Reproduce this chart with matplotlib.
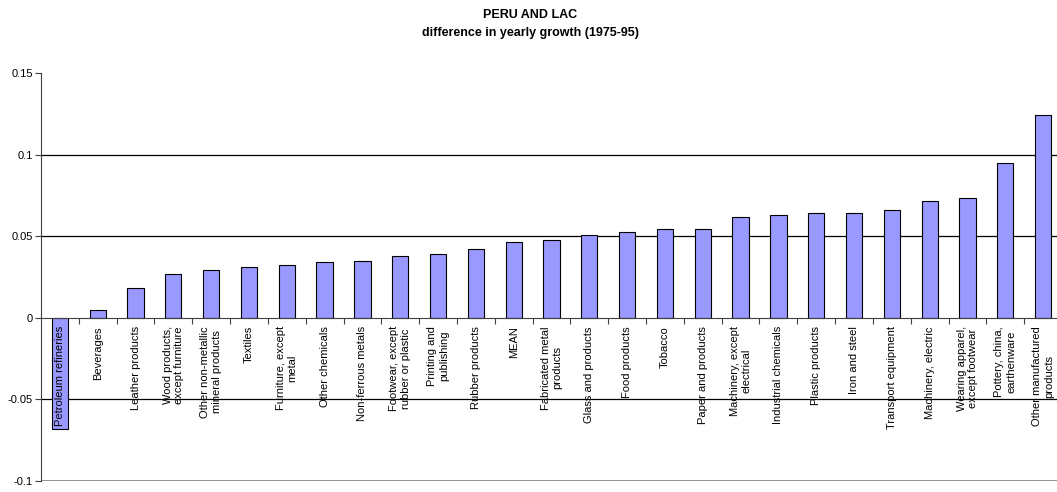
import numpy as np
import matplotlib
matplotlib.use("Agg")
import matplotlib.pyplot as plt

plt.rcParams['font.family'] = ['Liberation Sans', 'DejaVu Sans']

# Data
categories = [
    "Petroleum refineries", "Beverages", "Leather products",
    "Wood products,\nexcept furniture", "Other non-metallic\nmineral products",
    "Textiles", "Furniture, except\nmetal", "Other chemicals",
    "Non-ferrous metals", "Footwear, except\nrubber or plastic",
    "Printing and\npublishing", "Rubber products", "MEAN",
    "Fabricated metal\nproducts", "Glass and products", "Food products",
    "Tobacco", "Paper and products", "Machinery, except\nelectrical",
    "Industrial chemicals", "Plastic products", "Iron and steel",
    "Transport equipment", "Machinery, electric",
    "Wearing apparel,\nexcept footwear", "Pottery, china,\nearthenware",
    "Other manufactured\nproducts",
]
growth_diff = [
    -0.068, 0.005, 0.018, 0.027, 0.029, 0.031, 0.0325, 0.0343, 0.035,
    0.038, 0.039, 0.0423, 0.0463, 0.0475, 0.051, 0.0524, 0.0542, 0.0542,
    0.062, 0.063, 0.064, 0.0645, 0.066, 0.0718, 0.0732, 0.0951, 0.1245,
]
y_ticks = [-0.1, -0.05, 0, 0.05, 0.1, 0.15]
y_tick_labels = ["-0.1", "-0.05", "0", "0.05", "0.1", "0.15"]

W, H = 1057, 492
fig = plt.figure(figsize=(W / 100, H / 100), dpi=100)
ax = fig.add_axes([41 / W, (H - 481) / H, (1062 - 41) / W, (481 - 73) / H])
ax.set_axisbelow(False)

x = np.arange(len(categories))

# grid lines (no line at 0.15)
for yv in [0.1, 0.05, -0.05]:
    ax.axhline(yv, color='black', lw=0.9, zorder=1)
ax.axhline(-0.1, color='#808080', lw=1.2, zorder=1)

ax.bar(x, growth_diff, width=0.43, color='#9999FF', edgecolor='black',
       linewidth=0.8, zorder=2)

ax.set_xlim(-0.5, len(categories) - 0.5)
ax.set_ylim(-0.1, 0.15)

ax.spines['top'].set_visible(False)
ax.spines['right'].set_visible(False)
ax.spines['bottom'].set_position(('data', 0))
ax.spines['bottom'].set_color('#404040')
ax.spines['left'].set_color('#404040')

ax.set_yticks(y_ticks)
ax.set_yticklabels(y_tick_labels, fontsize=8)
ax.tick_params(axis='y', direction='out', length=4, width=0.8,
               color='#404040', pad=2)

ax.set_xticks(x)
ax.set_xticklabels(categories, rotation=90, fontsize=8, va='top',
                   ha='center', linespacing=1.2)
ax.set_xticks(np.arange(len(categories) - 1) + 0.5, minor=True)
ax.tick_params(axis='x', which='major', length=0, pad=6)
ax.tick_params(axis='x', which='minor', direction='out', length=4,
               width=0.8, color='#404040')

fig.text(530 / W, 1 - 15 / H, "PERU AND LAC", ha='center', va='center',
         fontsize=9, fontweight='bold')
fig.text(530 / W, 1 - 33 / H, "difference in yearly growth (1975-95)",
         ha='center', va='center', fontsize=9, fontweight='bold')

fig.savefig("out.png", dpi=100)
print("Plot generated successfully.")
